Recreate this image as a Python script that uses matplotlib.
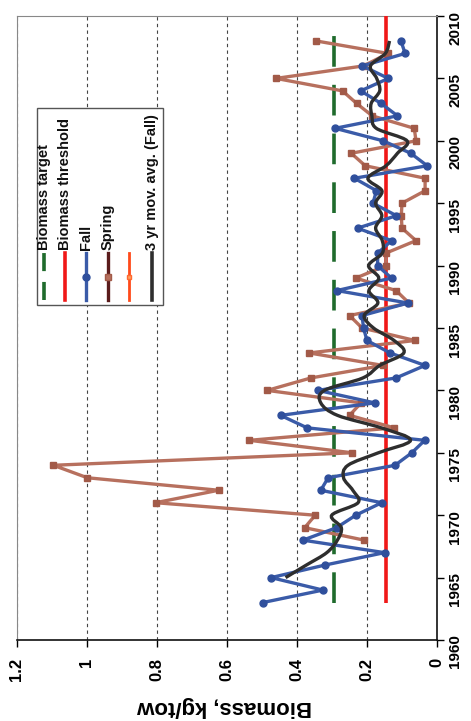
import numpy as np
import pandas as pd
import matplotlib
matplotlib.use("Agg")
import matplotlib.pyplot as plt
from matplotlib.path import Path
from matplotlib.patches import PathPatch, Rectangle
from matplotlib.lines import Line2D

# ---------------- data ----------------
fall_years = list(range(1963, 2009))
fall_values = [0.498, 0.326, 0.474, 0.321, 0.150, 0.383, 0.287, 0.232, 0.158, 0.332,
               0.311, 0.120, 0.072, 0.035, 0.371, 0.447, 0.178, 0.340, 0.117, 0.034,
               0.134, 0.200, 0.210, 0.214, 0.083, 0.286, 0.130, 0.170, 0.169, 0.130,
               0.227, 0.116, 0.183, 0.173, 0.236, 0.028, 0.075, 0.154, 0.291, 0.113,
               0.160, 0.218, 0.139, 0.213, 0.091, 0.103]

spring_years = list(range(1968, 2009))
spring_values = [0.208, 0.378, 0.348, 0.804, 0.624, 0.999, 1.096, 0.242, 0.536, 0.122,
                 0.250, 0.217, 0.485, 0.360, 0.154, 0.365, 0.063, 0.214, 0.250, 0.080,
                 0.117, 0.232, 0.146, 0.146, 0.060, 0.100, 0.102, 0.100, 0.034, 0.034,
                 0.205, 0.245, 0.060, 0.065, 0.185, 0.230, 0.270, 0.460, 0.210, 0.140,
                 0.345]

target_years = [1963, 2009]
target_values = [0.295, 0.295]
threshold_years = [1963, 2010]
threshold_values = [0.145, 0.145]

biomass_ticks = [0, 0.2, 0.4, 0.6, 0.8, 1.0, 1.2]
biomass_ticklabels = ["0", "0.2", "0.4", "0.6", "0.8", "1", "1.2"]
year_ticks = list(range(1960, 2011, 5))
legend_labels = ["Biomass target", "Biomass threshold", "Fall", "Spring", "",
                 "3 yr mov. avg. (Fall)"]

# ---------------- style ----------------
plt.rcParams['font.family'] = ['Liberation Sans', 'DejaVu Sans']
FALL_C = '#3a5ba8'
FALL_M = '#2f4f9c'
SPRING_C = '#b7705e'
SPRING_M = '#a25a48'
AVG_C = '#2e2e2e'
TARGET_C = '#1f6b2c'
THRESH_C = '#f01818'

W, H = 471, 721
fig = plt.figure(figsize=(W / 100, H / 100), dpi=100)
ax_left, ax_right, ax_top, ax_bottom = 17, 437, 16, 640
ax = fig.add_axes([ax_left / W, (H - ax_bottom) / H,
                   (ax_right - ax_left) / W, (ax_bottom - ax_top) / H])

ax.set_xlim(1.2, 0)
ax.set_ylim(1960, 2010)

# grid
ax.set_xticks(biomass_ticks)
ax.set_xticklabels(biomass_ticklabels)
ax.set_yticks(year_ticks)
ax.xaxis.grid(True, linestyle=(0, (3, 3)), color='#444444', lw=0.8)
ax.yaxis.grid(False)
ax.set_axisbelow(True)

# lines
ax.plot(threshold_values, threshold_years, color=THRESH_C, lw=2.6, zorder=3,
        solid_capstyle='butt')
ax.plot(target_values, target_years, color=TARGET_C, lw=2.6, zorder=3,
        linestyle=(0, (8.5, 5)))
ax.plot(spring_values, spring_years, color=SPRING_C, lw=2.4, marker='s', ms=5,
        mfc=SPRING_M, mec=SPRING_M, zorder=4)
ax.plot(fall_values, fall_years, color=FALL_C, lw=2.4, marker='o', ms=5,
        mfc=FALL_M, mec=FALL_M, zorder=5)

# 3-yr moving average (trailing), drawn as a smoothed curve
ma = pd.Series(fall_values, index=fall_years).rolling(3).mean().dropna()
px = ma.values
py = np.array(ma.index, dtype=float)
verts = [(px[0], py[0])]
codes = [Path.MOVETO]
n = len(px)
for i in range(n - 1):
    p0 = np.array([px[max(i - 1, 0)], py[max(i - 1, 0)]])
    p1 = np.array([px[i], py[i]])
    p2 = np.array([px[i + 1], py[i + 1]])
    p3 = np.array([px[min(i + 2, n - 1)], py[min(i + 2, n - 1)]])
    c1 = p1 + (p2 - p0) / 6.0
    c2 = p2 - (p3 - p1) / 6.0
    verts += [tuple(c1), tuple(c2), tuple(p2)]
    codes += [Path.CURVE4] * 3
ax.add_patch(PathPatch(Path(verts, codes), fill=False, ec=AVG_C, lw=2.4, zorder=6))

# spines / ticks
for s in ['left', 'top']:
    ax.spines[s].set_color('#888888')
    ax.spines[s].set_linewidth(0.8)
for s in ['right', 'bottom']:
    ax.spines[s].set_color('#111111')
    ax.spines[s].set_linewidth(1.2)
ax.yaxis.tick_right()
ax.tick_params(axis='y', which='both', left=False, right=True, direction='out',
               length=5, width=1, pad=3, labelrotation=90, labelsize=11)
ax.tick_params(axis='x', direction='out', length=5, width=1, pad=8,
               labelrotation=90, labelsize=12)
for lab in ax.get_xticklabels() + ax.get_yticklabels():
    lab.set_fontweight('bold')

ax.set_xlabel("Biomass, kg/tow", rotation=180, fontsize=16, fontweight='bold')
ax.xaxis.label.set_va('center')
ax.xaxis.set_label_coords((225 - ax_left) / (ax_right - ax_left),
                          (ax_bottom - 706) / (ax_bottom - ax_top))

# ---------------- legend (rotated, built by hand) ----------------
def axx(px_):
    return (px_ - ax_left) / (ax_right - ax_left)

def axy(py_):
    return (ax_bottom - py_) / (ax_bottom - ax_top)

box_l, box_r, box_t, box_b = 37, 163, 108, 305
ax.add_patch(Rectangle((axx(box_l), axy(box_b)), axx(box_r) - axx(box_l),
                       axy(box_t) - axy(box_b), transform=ax.transAxes,
                       fc='white', ec='#555555', lw=1.0, zorder=10))
entry_x = [44, 65, 86, 108, 129, 152]
h_top, h_bot = 253, 300
styles = [
    dict(color=TARGET_C, lw=2.6, linestyle=(0, (5, 3))),
    dict(color=THRESH_C, lw=2.6),
    dict(color=FALL_C, lw=2.4, marker='o', ms=5, mfc=FALL_M, mec=FALL_M),
    dict(color='#5a1c1c', lw=2.4, marker='s', ms=5, mfc=SPRING_C, mec=SPRING_M),
    dict(color='#ff4a1a', lw=2.0, marker='s', ms=3, mfc='#ffa060', mec='#ff6a30'),
    dict(color=AVG_C, lw=2.6),
]
for xe, lab, st in zip(entry_x, legend_labels, styles):
    x_ax = axx(xe)
    ln = Line2D([x_ax, x_ax], [axy(h_bot), axy(h_top)], transform=ax.transAxes,
                zorder=11, **{k: v for k, v in st.items() if k not in ('marker', 'ms', 'mfc', 'mec')})
    ax.add_line(ln)
    if 'marker' in st:
        mk = Line2D([x_ax], [axy((h_top + h_bot) / 2)], transform=ax.transAxes,
                    zorder=12, linestyle='none', marker=st['marker'], ms=st['ms'],
                    mfc=st['mfc'], mec=st['mec'])
        ax.add_line(mk)
    if lab:
        ax.text(x_ax, axy(250), lab, transform=ax.transAxes, rotation=90,
                ha='center', va='bottom', fontsize=10.5, fontweight='bold',
                color='#111111', zorder=12)

fig.savefig("out.png", dpi=100)
